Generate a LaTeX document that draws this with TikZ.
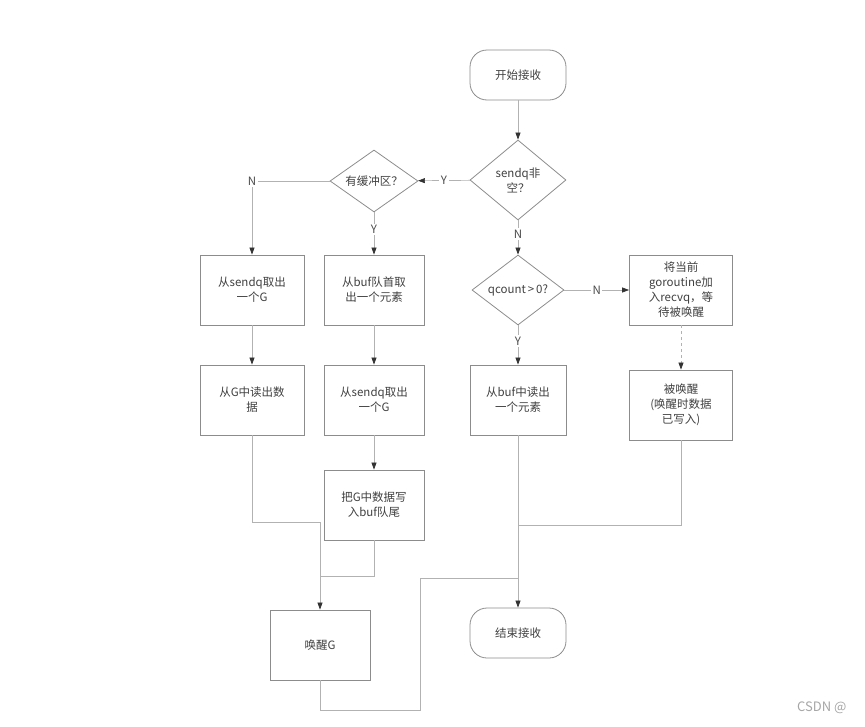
\documentclass[tikz,border=0pt]{standalone}
\usepackage{fontspec}
\setmainfont{Noto Sans CJK SC}
\usetikzlibrary{shapes.geometric,arrows.meta}
\begin{document}
\begin{tikzpicture}[x=1pt,y=-1pt,font=\fontsize{11.5}{15}\selectfont,
  line/.style={draw=black!30,line width=0.7pt},
  arr/.style={line,-{Triangle[length=7pt,width=5pt,fill=black!80,color=black!80]}},
  box/.style={draw=black!45,line width=0.8pt,minimum width=104pt,minimum height=70pt,align=center,text=black!75},
  term/.style={draw=black!45,line width=0.8pt,rounded corners=17pt,minimum width=96pt,minimum height=50pt,text=black!75},
  dia/.style={draw=black!45,line width=0.8pt,diamond,aspect=1.2,inner sep=0pt,align=center,text=black!75},
  lab/.style={fill=white,inner sep=1.5pt,text=black!70}]
\useasboundingbox (0,0) rectangle (865,726);
\node[term] (start) at (518,75) {开始接收};
\node[dia,minimum width=96pt,minimum height=80pt] (sq) at (518,180) {sendq非\\空？};
\node[dia,minimum width=88pt,minimum height=62pt] (bf) at (374,181) {有缓冲区？};
\node[box] (a) at (252,290) {从sendq取出\\一个G};
\node[box,minimum width=100pt] (b) at (374,290) {从buf队首取\\出一个元素};
\node[dia,minimum width=92pt,minimum height=70pt] (qc) at (518,290) {qcount\,>\,0?};
\node[box,minimum width=103pt] (c) at (681,290) {将当前\\goroutine加\\入recvq，等\\待被唤醒};
\node[box] (d) at (252,400) {从G中读出数\\据};
\node[box,minimum width=100pt] (e) at (374,400) {从sendq取出\\一个G};
\node[box,minimum width=96pt] (f) at (518,400) {从buf中读出\\一个元素};
\node[box,minimum width=103pt] (h) at (681,405) {被唤醒\\(唤醒时数据\\已写入)};
\node[box,minimum width=100pt] (i) at (374,505) {把G中数据写\\入buf队尾};
\node[box,minimum width=100pt] (j) at (320,645) {唤醒G};
\node[term] (end) at (518,633) {结束接收};
\coordinate (ca) at (252,181);
\coordinate (m1) at (320,522);
\coordinate (m2) at (320,576);
\coordinate (e1) at (518,525);
\coordinate (e2) at (518,578);

\draw[arr] (start) -- (sq);
\draw[arr] (sq) -- node[lab]{Y} (bf);
\draw[arr] (bf) -- (ca) node[lab]{N} -- (a);
\draw[arr] (bf) -- node[lab,pos=0.4]{Y} (b);
\draw[arr] (sq) -- node[lab,pos=0.4]{N} (qc);
\draw[arr] (qc) -- node[lab]{N} (c);
\draw[arr] (qc) -- node[lab,pos=0.4]{Y} (f);
\draw[arr,dashed] (c) -- (h);
\draw[arr] (a) -- (d);
\draw[arr] (b) -- (e);
\draw[arr] (e) -- (i);
\draw[arr] (d.south) |- (m1) -- (j);
\draw[line] (i.south) |- (m2);
\draw[arr] (f) -- (end);
\draw[line] (h.south) |- (e1);
\draw[line] (j.south) -- (320,710) -- (420,710) |- (e2);
\node[text=black!35,font=\fontsize{13}{13}\selectfont,anchor=east] (wm) at (850,708) {CSDN @};
\end{tikzpicture}
\end{document}
